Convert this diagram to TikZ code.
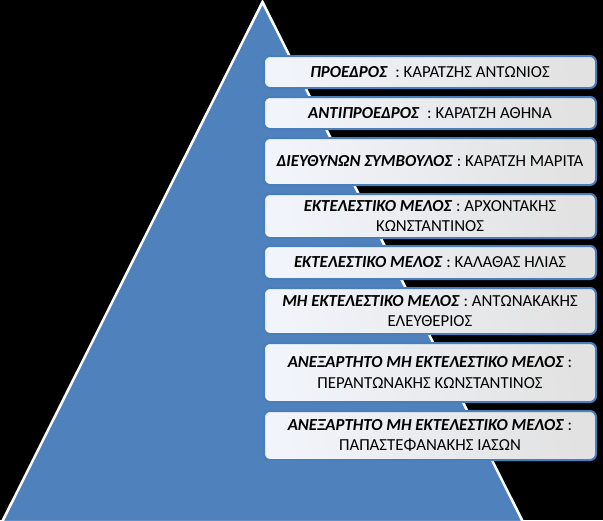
\documentclass[tikz,border=0pt]{standalone}
\usepackage{fontspec}
\setmainfont{Carlito}
\definecolor{tri}{HTML}{4F81BD}
\definecolor{boxline}{HTML}{4A7EBB}
\definecolor{boxl}{HTML}{F1F4FA}
\definecolor{boxr}{HTML}{E2E2E2}
\newcommand{\role}[1]{\textbf{\textit{#1}}}
\begin{document}
\begin{tikzpicture}[x=1pt,y=-1pt,
  member/.style={rounded corners=6pt, draw=boxline, line width=2pt,
    left color=boxl, right color=boxr, shading angle=100,
    minimum width=332pt, inner sep=0pt, align=center, text=black,
    font=\fontsize{16.8}{20.5}\selectfont}]
\fill[black] (0,0) rectangle (603,520);
\useasboundingbox (0,0) rectangle (603,520);
\coordinate (apex) at (262.5,2);
\coordinate (bl) at (2,522);
\coordinate (br) at (523,522);
\draw[white, line width=2.5pt, fill=tri] (apex) -- (br) -- (bl) -- cycle;
\node[member, minimum height=32pt] (b1) at (430,72) {\role{ΠΡΟΕΔΡΟΣ}\ \ : ΚΑΡΑΤΖΗΣ ΑΝΤΩΝΙΟΣ};
\node[member, minimum height=32pt] (b2) at (430,113) {\role{ΑΝΤΙΠΡΟΕΔΡΟΣ}\ \ : ΚΑΡΑΤΖΗ ΑΘΗΝΑ};
\node[member, minimum height=47pt] (b3) at (430,161.5) {\role{ΔΙΕΥΘΥΝΩΝ ΣΥΜΒΟΥΛΟΣ} : ΚΑΡΑΤΖΗ ΜΑΡΙΤΑ};
\node[member, minimum height=44pt] (b4) at (430,216) {\role{ΕΚΤΕΛΕΣΤΙΚΟ ΜΕΛΟΣ} : ΑΡΧΟΝΤΑΚΗΣ\\ΚΩΝΣΤΑΝΤΙΝΟΣ};
\node[member, minimum height=33pt] (b5) at (430,262.5) {\role{ΕΚΤΕΛΕΣΤΙΚΟ ΜΕΛΟΣ} : ΚΑΛΑΘΑΣ ΗΛΙΑΣ};
\node[member, minimum height=46pt] (b6) at (430,311) {\role{ΜΗ ΕΚΤΕΛΕΣΤΙΚΟ ΜΕΛΟΣ} : ΑΝΤΩΝΑΚΑΚΗΣ\\ΕΛΕΥΘΕΡΙΟΣ};
\node[member, minimum height=59pt] (b7) at (430,372.5) {\role{ΑΝΕΞΑΡΤΗΤΟ ΜΗ ΕΚΤΕΛΕΣΤΙΚΟ ΜΕΛΟΣ} :\\ΠΕΡΑΝΤΩΝΑΚΗΣ ΚΩΝΣΤΑΝΤΙΝΟΣ};
\node[member, minimum height=49pt] (b8) at (430,435.5) {\role{ΑΝΕΞΑΡΤΗΤΟ ΜΗ ΕΚΤΕΛΕΣΤΙΚΟ ΜΕΛΟΣ} :\\ΠΑΠΑΣΤΕΦΑΝΑΚΗΣ ΙΑΣΩΝ};
\end{tikzpicture}
\end{document}
